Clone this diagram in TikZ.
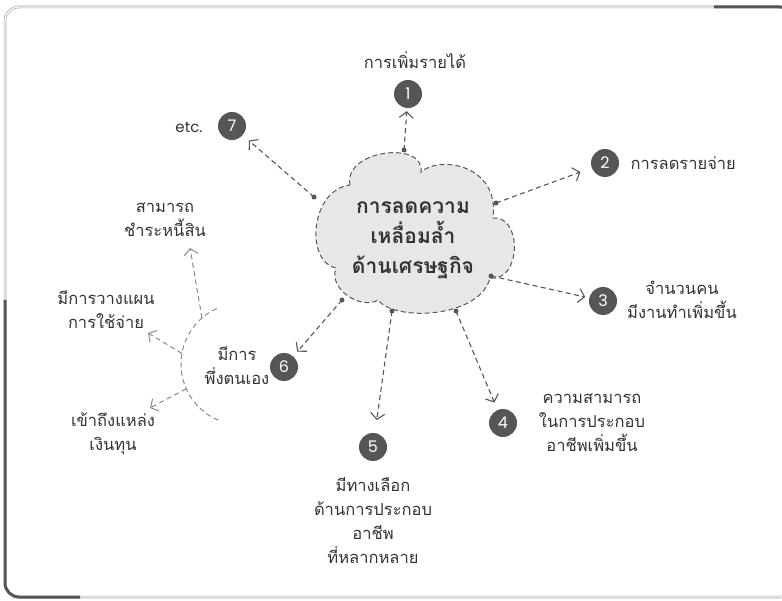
\documentclass[tikz,border=0pt]{standalone}
\usepackage{fontspec}
\setmainfont[Script=Thai]{Loma}
\newfontfamily\numfont{Poppins}
\usetikzlibrary{arrows.meta}
\definecolor{dk}{HTML}{555658}
\definecolor{txt}{HTML}{333333}
\definecolor{lt}{HTML}{8A8A8A}
\definecolor{cloudfill}{HTML}{E6E7E8}
\tikzset{
  numc/.style={circle, fill=dk, text=white, minimum size=28pt, inner sep=0pt, font=\numfont\fontsize{16}{16}\selectfont},
  lbl/.style={text=txt, align=center, font=\fontsize{16.5}{24}\selectfont},
  dotn/.style={circle, fill=dk, minimum size=5pt, inner sep=0pt},
  conn/.style={draw=dk, line width=1.1pt, dash pattern=on 5pt off 3.5pt, -{Straight Barb[length=6pt,width=14pt,line width=1.1pt]}},
  subconn/.style={draw=lt, line width=1pt, dash pattern=on 5pt off 3.5pt, -{Straight Barb[length=6pt,width=14pt,line width=1pt]}},
  subarc/.style={draw=lt, line width=1pt, dash pattern=on 5pt off 3.5pt},
  framebox/.style={draw=gray!75, line width=0.6pt, double=white, double distance=1.3pt, rounded corners=14pt},
  accent/.style={draw=dk, line width=3pt, rounded corners=14pt}
}
\begin{document}
\begin{tikzpicture}[x=1pt,y=-1pt]
\useasboundingbox (0,0) rectangle (782,601);
\clip (0,0) rectangle (782,601);

% frame
\draw[framebox] (5,7) rectangle (794,597);
\draw[accent] (5,300) -- (5,597) -- (80,597);
\draw[accent] (714,7) -- (794,7) -- (794,60);

% cloud
\draw[fill=cloudfill, draw=dk, line width=1pt, dash pattern=on 5pt off 3pt]
  (350,185) .. controls (343,150) and (425,140) .. (421,172)
  .. controls (440,155) and (500,165) .. (493,218)
  .. controls (522,215) and (522,282) .. (490,278)
  .. controls (480,318) and (395,322) .. (378,300)
  .. controls (362,310) and (328,290) .. (336,268)
  .. controls (305,262) and (310,190) .. cycle;
\node[font=\bfseries\fontsize{21}{30}\selectfont, text=txt, align=center] (ct) at (413,240) {การลดความ\\เหลื่อมล้ำ\\ด้านเศรษฐกิจ};

% dots on cloud
\node[dotn] (d1) at (404,150) {};
\node[dotn] (d7) at (314,197) {};
\node[dotn] (d2) at (496,203) {};
\node[dotn] (d3) at (491,276) {};
\node[dotn] (d6) at (342,300) {};
\node[dotn] (d5) at (392,311) {};
\node[dotn] (d4) at (456,311) {};

% numbered items
\node[numc] (c1) at (408,94) {1};
\node[lbl] (t1) at (415,60) {การเพิ่มรายได้};
\node[numc] (c7) at (232,126) {7};
\node[text=txt, font=\numfont\fontsize{15}{15}\selectfont] (t7) at (189,127) {etc.};
\node[numc] (c2) at (605,163) {2};
\node[lbl, anchor=west] (t2) at (627,163) {การลดรายจ่าย};
\node[numc] (c3) at (603,301) {3};
\node[lbl] (t3) at (682,300) {จำนวนคน\\มีงานทำเพิ่มขึ้น};
\node[numc] (c4) at (503,423) {4};
\node[lbl] (t4) at (592,423) {ความสามารถ\\ในการประกอบ\\อาชีพเพิ่มขึ้น};
\node[numc] (c5) at (373,447) {5};
\node[lbl] (t5) at (373,521) {มีทางเลือก\\ด้านการประกอบ\\อาชีพ\\ที่หลากหลาย};
\node[numc] (c6) at (284,367) {6};
\node[lbl] (t6) at (237,366) {มีการ\\พึ่งตนเอง};

% main connectors
\draw[conn, shorten >=3pt] (d1.center) -- (c1);
\draw[conn, shorten >=8pt] (d7.center) -- (c7);
\draw[conn, shorten >=12pt] (d2.center) -- (c2);
\draw[conn, shorten >=4pt] (d3.center) -- (c3);
\draw[conn, shorten >=8pt] (d4.center) -- (c4);
\draw[conn, shorten >=13pt] (d5.center) -- (c5);
\draw[conn, shorten >=6pt] (d6.center) -- (c6);

% sub-branch of item 6
\draw[subarc] plot[domain=113:247, samples=60] ({242+61*cos(\x)},{364+61*sin(\x)});
\coordinate (a1) at ({242+61*cos(229)},{364+61*sin(229)});
\coordinate (a2) at ({242+61*cos(190)},{364+61*sin(190)});
\coordinate (a3) at ({242+61*cos(156)},{364+61*sin(156)});
\coordinate (e1) at (190,248);
\coordinate (e2) at (148,333);
\coordinate (e3) at (150,408);
\node[lbl] (s1) at (165,220) {สามารถ\\ชำระหนี้สิน};
\node[lbl] (s2) at (106,310) {มีการวางแผน\\การใช้จ่าย};
\node[lbl] (s3) at (113,434) {เข้าถึงแหล่ง\\เงินทุน};
\draw[subconn] (a1) -- (e1);
\draw[subconn] (a2) -- (e2);
\draw[subconn] (a3) -- (e3);
\end{tikzpicture}
\end{document}
